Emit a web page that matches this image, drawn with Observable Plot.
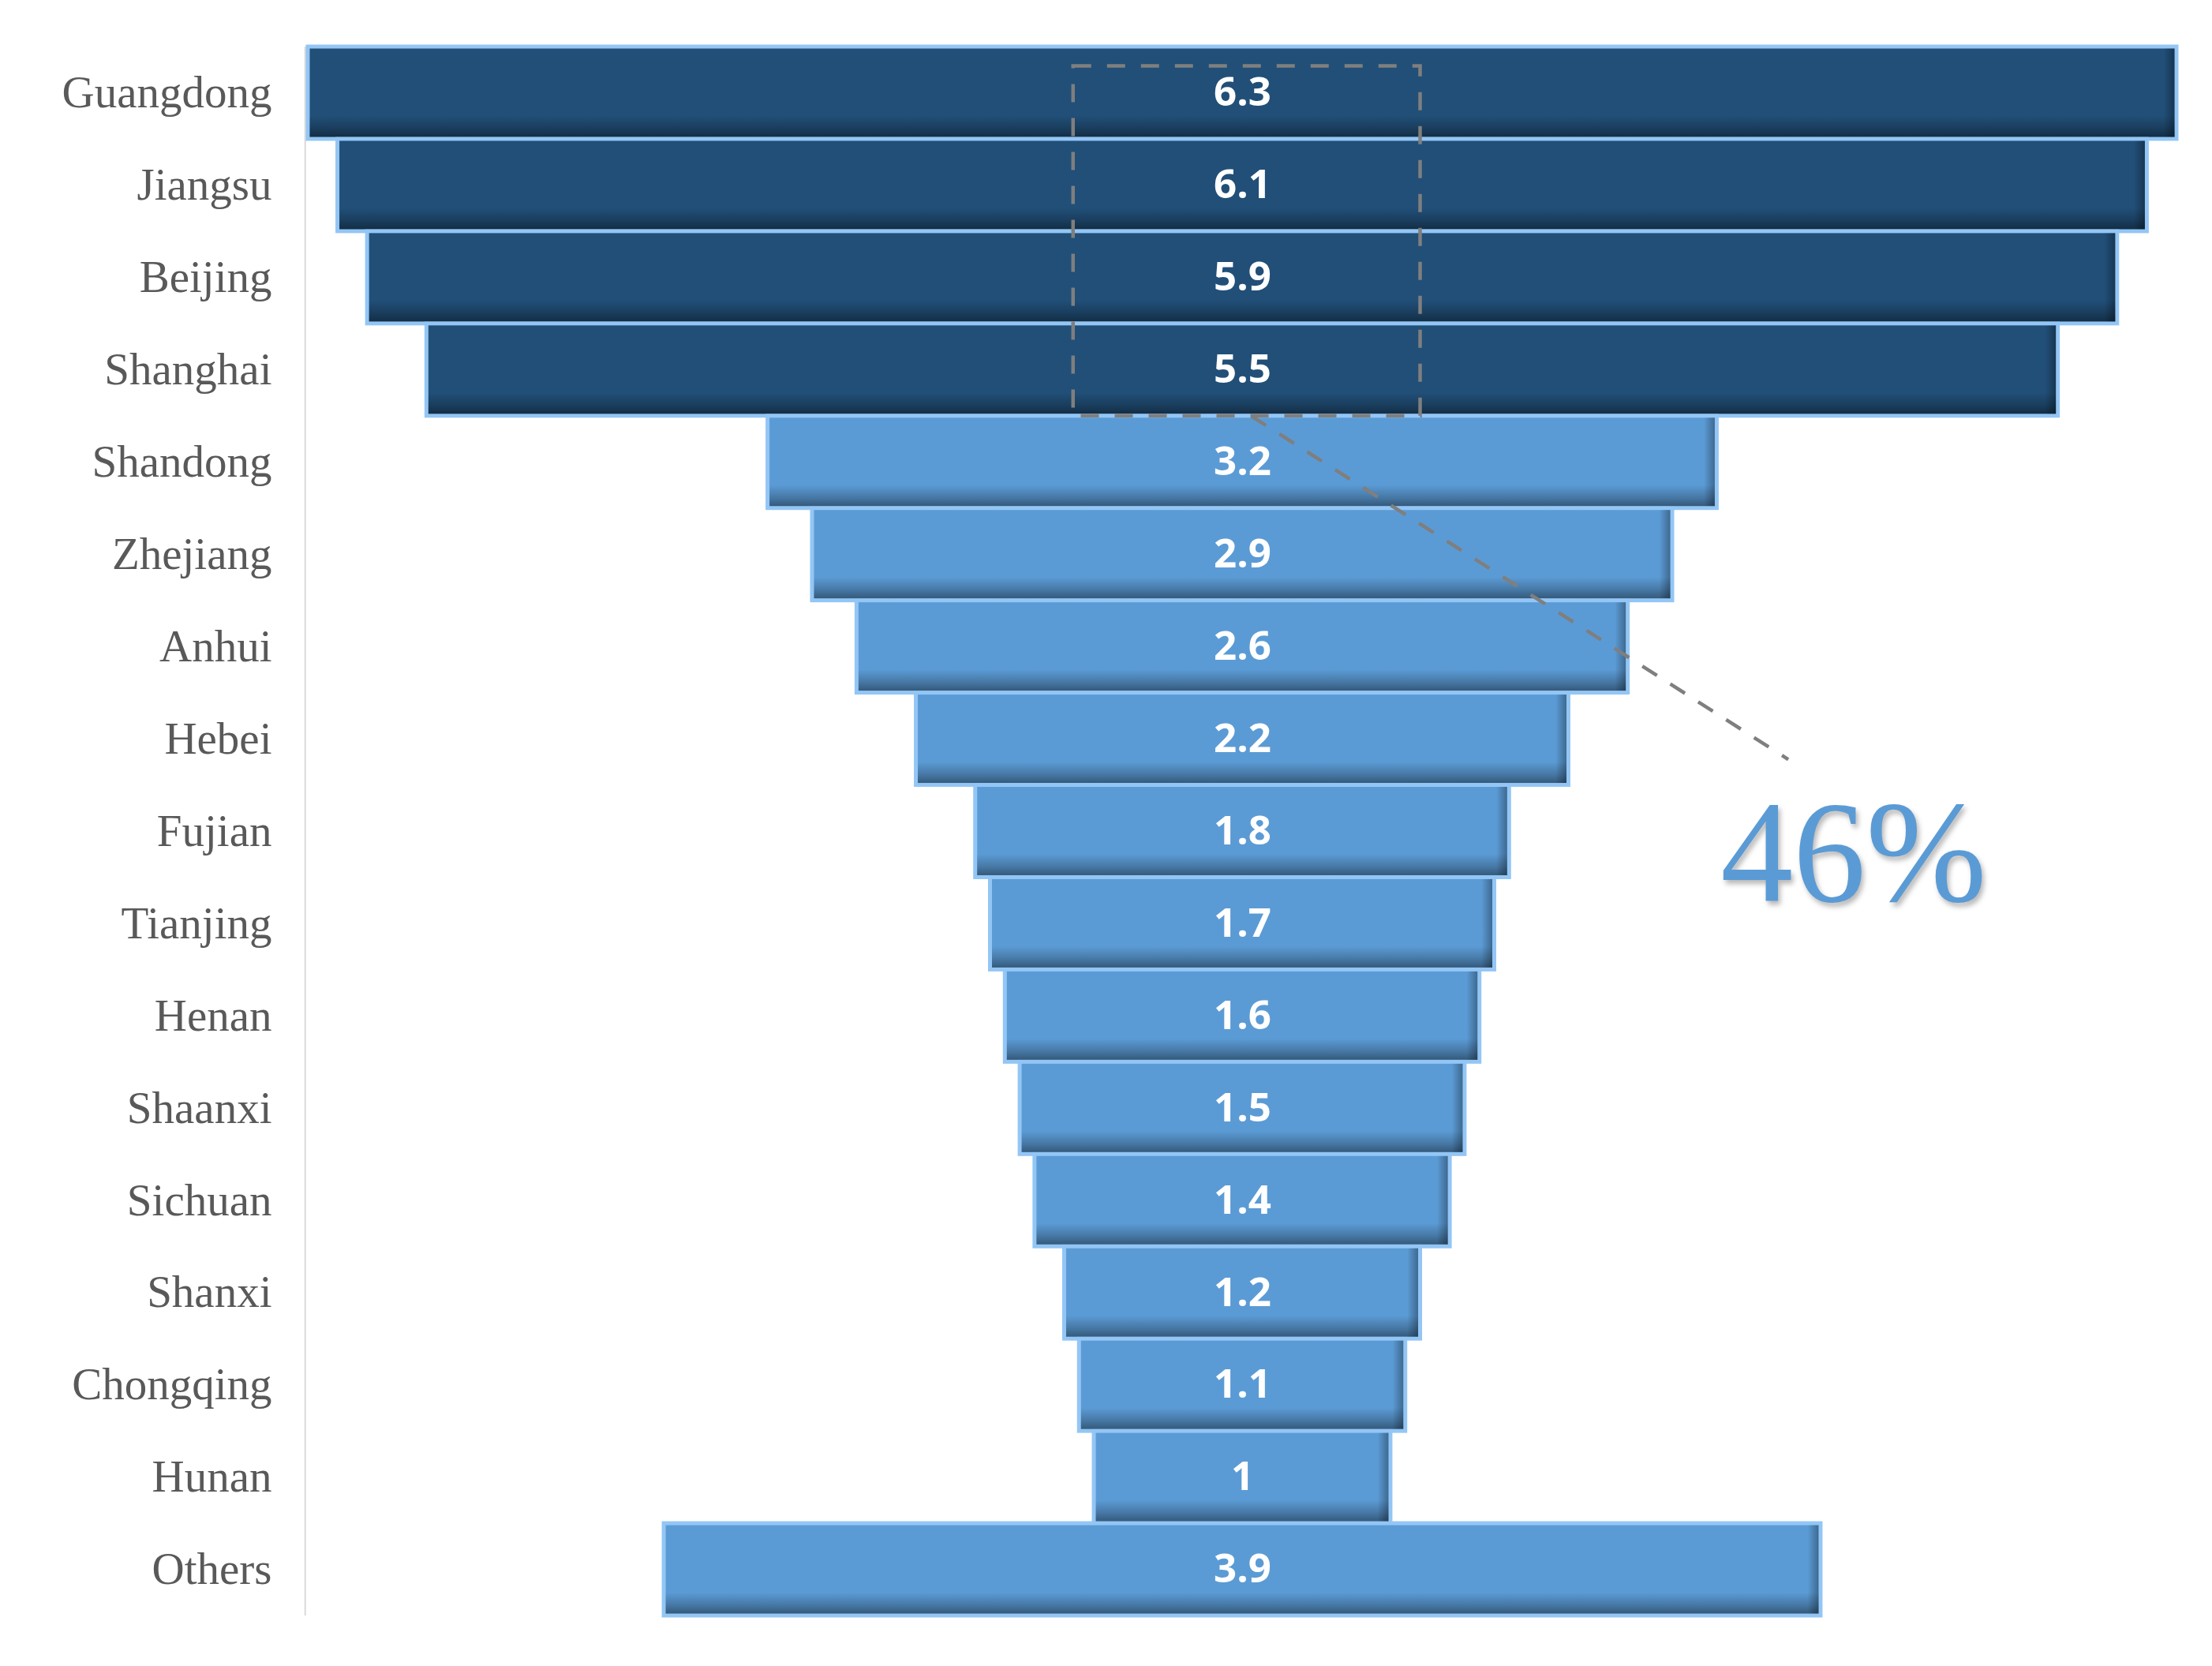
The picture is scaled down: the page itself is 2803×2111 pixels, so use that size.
<!DOCTYPE html>
<html>
<head>
<meta charset="utf-8">
<script src="https://cdn.jsdelivr.net/npm/d3@7"></script>
<script src="https://cdn.jsdelivr.net/npm/@observablehq/plot@0.6"></script>
<style>
  html, body { margin: 0; padding: 0; background: #ffffff; overflow: hidden; }
  #chart svg { display: block; }
</style>
</head>
<body>
<div id="chart"></div>
<script>
// ---- data ----
const provinces = ["Guangdong", "Jiangsu", "Beijing", "Shanghai", "Shandong", "Zhejiang", "Anhui", "Hebei",
  "Fujian", "Tianjing", "Henan", "Shaanxi", "Sichuan", "Shanxi", "Chongqing", "Hunan", "Others"];
const values = [6.3, 6.1, 5.9, 5.5, 3.2, 2.9, 2.6, 2.2, 1.8, 1.7, 1.6, 1.5, 1.4, 1.2, 1.1, 1, 3.9];
const tiers = ["top", "top", "top", "top", "rest", "rest", "rest", "rest", "rest", "rest", "rest", "rest",
  "rest", "rest", "rest", "rest", "rest"];
const shareLabel = ["46%"];
// callout annotation in data units (x: value units around the funnel centre, y: row index)
const calloutBox = [{x1: -0.57, x2: 0.6, y1: -0.29, y2: 3.5}];
const calloutLink = [{x1: 0.03, y1: 3.5, x2: 1.84, y2: 7.22}];
const calloutText = [{x: 2.06, y: 8.25}];

const rows = provinces.map((p, i) => ({p, i, v: values[i], tier: tiers[i]}));
const half = d3.max(values) / 2;

const W = 2803, H = 2111;

const chart = Plot.plot({
  width: W,
  height: H,
  marginLeft: 390,
  marginRight: 45,
  marginTop: 59,
  marginBottom: 64,
  style: {background: "#ffffff", fontFamily: "'Liberation Serif', serif"},
  x: {domain: [-half, half], axis: null},
  y: {domain: [-0.5, provinces.length - 0.5], reverse: true, axis: null},
  color: {domain: ["top", "rest"], range: ["#214F78", "#5B9BD5"]},
  marks: [
    Plot.ruleX([-half], {x: d => d - 0.01, stroke: "#d9d9d9", strokeWidth: 2}),
    Plot.axisY({
      ticks: d3.range(provinces.length),
      tickFormat: i => provinces[i],
      tickSize: 0,
      tickPadding: 46,
      fontSize: 57,
      fontFamily: "'Liberation Serif', serif",
      fill: "#595959",
      label: null
    }),
    // base bars with light glow edge
    Plot.rect(rows, {
      x1: d => -d.v / 2, x2: d => d.v / 2,
      y1: d => d.i - 0.5, y2: d => d.i + 0.5,
      fill: "tier", stroke: "#93c6f5", strokeWidth: 5
    }),
    // bottom bevel shading
    Plot.rect(rows, {
      x1: d => -d.v / 2, x2: d => d.v / 2,
      y1: d => d.i - 0.5, y2: d => d.i + 0.5,
      inset: 2.5,
      fill: "url(#vshade)"
    }),
    // right-edge shading
    Plot.rect(rows, {
      x1: d => d.v / 2 - 0.05, x2: d => d.v / 2,
      y1: d => d.i - 0.5, y2: d => d.i + 0.5,
      inset: 2.5,
      fill: "url(#hshade)"
    }),
    Plot.text(rows, {
      x: 0, y: "i",
      text: d => String(d.v),
      fill: "white",
      fontSize: 51,
      fontWeight: 700,
      fontFamily: "'Open Sans', sans-serif"
    }),
    Plot.rect(calloutBox, {
      x1: "x1", x2: "x2", y1: "y1", y2: "y2",
      fill: "none", stroke: "#7f7f7f", strokeWidth: 4.5, strokeDasharray: "23,20"
    }),
    Plot.link(calloutLink, {
      x1: "x1", y1: "y1", x2: "x2", y2: "y2",
      stroke: "#7f7f7f", strokeWidth: 4.5, strokeDasharray: "22,20"
    }),
    Plot.text(calloutText, {
      x: "x", y: "y",
      text: () => shareLabel[0],
      fill: "#5B9BD5",
      fontSize: 184,
      fontFamily: "'Liberation Serif', serif"
    })
  ]
});

// gradient definitions used by the shading overlays
const ns = "http://www.w3.org/2000/svg";
const defs = document.createElementNS(ns, "defs");
defs.innerHTML = `
  <linearGradient id="vshade" x1="0" y1="0" x2="0" y2="1">
    <stop offset="0" stop-color="#000" stop-opacity="0"/>
    <stop offset="0.76" stop-color="#000" stop-opacity="0"/>
    <stop offset="0.9" stop-color="#000" stop-opacity="0.22"/>
    <stop offset="1" stop-color="#000" stop-opacity="0.42"/>
  </linearGradient>
  <linearGradient id="hshade" x1="0" y1="0" x2="1" y2="0">
    <stop offset="0" stop-color="#000" stop-opacity="0"/>
    <stop offset="1" stop-color="#000" stop-opacity="0.32"/>
  </linearGradient>`;
chart.insertBefore(defs, chart.firstChild);

// soft shadow on the big share label
d3.select(chart).selectAll("text").filter(function() { return this.textContent === shareLabel[0]; })
  .style("filter", "drop-shadow(3px 5px 3px rgba(0,0,0,0.28))");

document.getElementById("chart").appendChild(chart);
</script>
</body>
</html>
